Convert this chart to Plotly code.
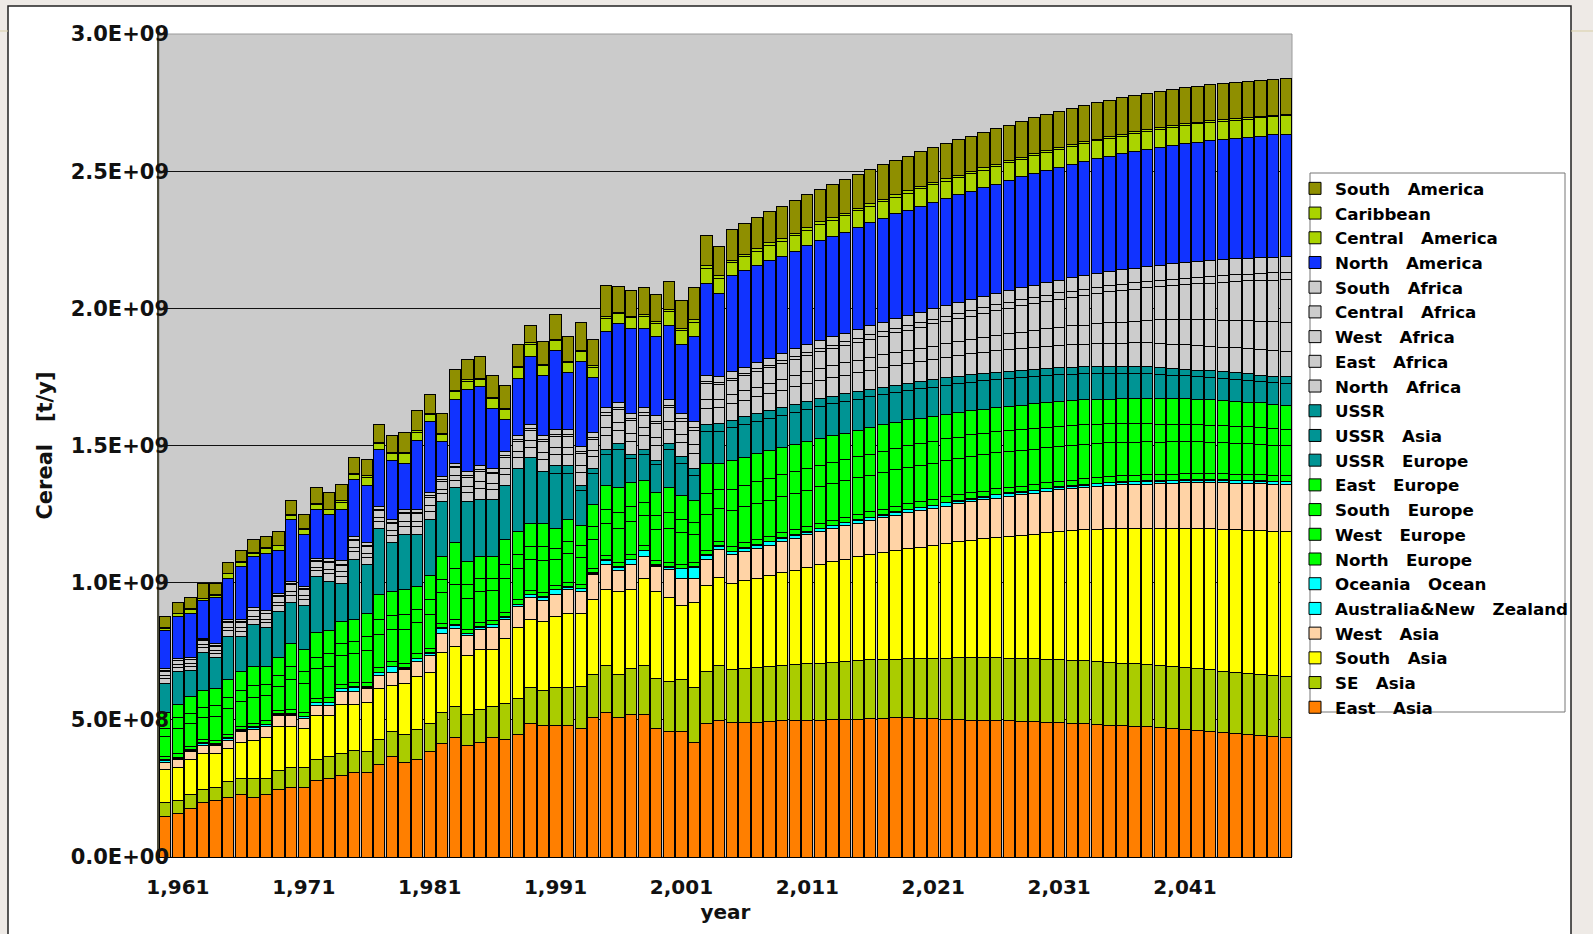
import plotly.graph_objects as go

# ---------------- data (million tonnes of cereal per year) ----------------
years = list(range(1960, 2050))
x_tick_years = [1961, 1971, 1981, 1991, 2001, 2011, 2021, 2031, 2041]
x_tick_text = ["1,961", "1,971", "1,981", "1,991", "2,001", "2,011", "2,021", "2,031", "2,041"]
y_tick_vals = [0.0, 0.5e9, 1.0e9, 1.5e9, 2.0e9, 2.5e9, 3.0e9]
y_tick_text = ["0.0E+00", "5.0E+08", "1.0E+09", "1.5E+09", "2.0E+09", "2.5E+09", "3.0E+09"]

east_asia = [148,158,176,198,207,216,227,216,227,245, 255,255,279,286,298,307,307,338,365,346,
             355,386,415,436,408,417,436,428,448,487, 478,478,478,469,508,527,509,518,518,469,
             459,459,418,
             487,497,490,490,492,494,496,497,498,499, 500,502,503,505,506,507,507,506,505,503,
             501,499,498,497,496,495,494,492,490,488, 486,484,481,479,477,475,472,469,466,462,
             458,453,449,446,442,439,437]
se_asia = [49,49,51,49,48,61,59,70,59,71, 73,73,77,79,81,82,79,90,91,100,
           110,100,111,112,110,121,112,130,130,130, 128,141,141,152,159,171,157,170,180,180,
           180,189,201,
           191,201,192,198,199,201,202,203,206,207, 208,209,212,214,214,214,215,216,218,222,
           225,228,230,231,229,228,228,229,230,230, 230,229,229,228,228,227,227,227,226,226,
           225,225,224,224,224,222,222]
south_asia = [121,119,129,130,122,120,130,139,148,160, 148,140,160,151,177,166,179,188,170,188,
              193,188,220,218,218,219,209,239,258,249, 252,257,269,267,270,278,301,288,318,318,
              307,268,309,
              310,322,316,319,325,332,339,346,352,360, 368,375,380,384,390,396,402,408,414,418,
              423,428,432,436,443,449,454,461,466,471, 476,482,487,491,493,496,499,502,506,509,
              513,517,520,521,523,527,529]
west_asia = [28,29,30,28,28,28,40,40,40,38, 38,36,37,37,49,49,49,46,48,50,
             56,61,69,68,70,71,79,69,77,79, 76,82,88,79,91,91,79,89,81,91,
             103,100,88,
             98,100,103,106,108,110,113,116,118,119, 120,121,122,123,126,128,130,133,135,136,
             138,140,142,144,146,148,150,151,152,154, 156,157,158,159,160,161,163,165,166,167,
             168,169,170,171,171,170,170]
australia_nz = [7,5,4,9,6,8,6,7,8,6, 6,7,10,10,9,14,4,9,19,3,
                9,7,19,10,7,10,10,8,7,11, 13,16,8,10,7,14,10,18,20,5,
                7,34,40,
                13,12,11,12,13,12,12,11,10,11, 11,11,11,10,10,11,12,10,9,12,
                10,9,9,12,11,9,9,9,9,8, 8,9,9,9,10,11,9,9,9,9,
                9,9,9,9,9,9,9]
oceania = [2,2,2,2,2,2,2,2,2,2, 2,2,2,2,2,2,2,2,2,2, 2,2,2,2,2,2,2,2,2,2,
           2,2,2,2,2,2,2,2,2,2, 2,2,2,2,2,2,2,2,2,2, 2,2,2,2,2,2,2,2,2,2,
           2,2,2,2,2,2,2,2,2,2, 2,2,2,2,2,2,2,2,2,2, 2,2,2,2,2,2,2,2,2,2]
north_europe = [10,15,12,12,12,13,13,13,13,12, 15,15,12,16,14,15,16,17,16,17,
                16,17,16,18,16,15,15,17,16,15, 16,13,15,14,15,16,17,17,15,16,
                17,16,14,
                18,17,19,19,19,19,19,19,19,19, 19,19,20,20,20,20,20,20,20,21,
                21,21,21,21,21,21,21,21,21,21, 21,21,21,21,21,21,21,21,22,22,
                22,22,22,22,22,22,22]
west_europe = [73,92,83,82,87,92,90,96,91,88, 110,104,110,112,104,105,115,122,117,123,
               113,122,111,129,113,111,107,121,114,111, 115,95,104,98,107,117,124,121,110,113,
               124,114,103,
               128,118,130,130,131,131,132,132,132,132, 132,132,132,133,133,133,133,133,133,133,
               133,133,132,131,130,130,129,128,127,126, 125,124,123,122,121,120,119,118,117,116,
               115,114,113,112,111,110,109]
south_europe = [32,40,37,36,39,40,41,42,40,39, 49,46,40,50,46,47,51,54,51,54,
                50,54,49,57,50,49,47,54,51,49, 51,42,46,43,47,52,55,53,48,50,
                55,50,46,
                79,70,78,78,78,78,78,78,78,77, 77,77,77,78,78,78,78,78,78,78,
                78,79,78,77,76,76,75,74,73,72, 71,70,69,68,67,66,65,64,63,63,
                62,62,61,61,60,60,59]
east_europe = [55,47,62,62,65,68,69,71,68,66, 82,78,91,83,77,78,85,91,87,91,
               83,90,83,97,83,82,80,90,85,83, 85,72,78,73,80,88,92,90,82,84,
               92,84,77,
               109,96,106,104,103,103,101,101,100,99, 98,97,96,96,96,96,94,94,93,89,
               89,87,88,86,88,89,90,89,90,91, 91,90,90,91,92,93,95,94,93,92,
               92,91,91,90,91,89,87]
ussr_europe = [0,0,0,0,0,0,0,0,0,0, 0,0,0,0,0,0,0,0,0,0, 0,0,0,0,0,0,0,0,0,0, 0,
               199,170,129,113,112,138,87,95,101,138,118,91,
               115,117,117,118,117,116,116,117,118,118, 117,115,114,113,111,108,107,106,105,106,
               106,105,104,103,103,102,100,99,98,97, 95,94,94,93,92,90,88,86,84,83,
               82,80,80,79,78,79,80]
ussr_asia = [0,0,0,0,0,0,0,0,0,0, 0,0,0,0,0,0,0,0,0,0, 0,0,0,0,0,0,0,0,0,0, 0,
             30,28,20,18,18,22,15,17,18,24,25,28,
             27,28,28,28,28,28,28,28,28,28, 28,28,27,27,27,27,27,27,27,27,
             27,27,27,27,26,26,26,26,26,26, 26,26,25,25,25,25,25,24,24,24,
             24,24,24,24,24,24,24]
ussr = [109,121,94,139,111,156,127,151,139,168, 148,159,206,179,140,221,180,241,180,202,
        189,202,200,199,218,208,208,198,229,240, 191,
        0,0,0,0,0,0,0,0,0,0,0,0,
        0,0,0,0,0,0,0,0,0,0, 0,0,0,0,0,0,0,0,0,0, 0,0,0,0,0,0,0,0,0,0,
        0,0,0,0,0,0,0,0,0,0, 0,0,0,0,0,0,0]
north_africa = [17,15,15,16,16,20,19,20,20,21, 26,23,21,27,26,26,26,25,27,29,
                29,32,29,28,35,39,36,39,39,38, 42,42,41,45,42,49,48,48,49,52,
                51,51,54,
                59,58,60,61,62,63,64,65,66,67, 68,69,70,70,71,72,73,73,74,75,
                75,76,77,78,79,79,80,81,82,83, 83,84,85,85,86,87,88,89,89,90,
                90,91,91,91,92,92,92]
east_africa = [10,9,9,10,10,12,12,11,12,13, 15,14,12,16,16,16,15,15,16,17,
               18,19,17,17,21,23,21,23,23,23, 25,25,25,27,24,29,29,28,29,30,
               30,30,32,
               32,31,33,35,36,37,39,40,41,42, 43,44,45,46,47,47,48,49,49,50,
               51,51,53,55,57,59,61,63,65,67, 69,72,74,76,79,82,85,88,91,93,
               96,98,100,102,104,106,108]
west_africa = [16,14,15,16,16,19,19,19,19,20, 25,22,20,26,25,25,25,24,26,29,
               28,31,29,28,34,38,35,38,37,38, 41,40,40,43,40,47,47,46,47,50,
               50,49,53,
               59,54,52,54,57,57,58,60,60,61, 62,64,66,67,68,72,73,76,81,81,
               84,87,89,91,93,96,99,100,102,104, 108,110,113,116,117,119,121,125,128,131,
               134,138,141,146,148,152,155]
central_africa = [3,2,2,3,3,3,3,3,3,3, 4,4,3,4,4,4,4,4,4,5,
                  5,5,5,4,6,6,6,6,6,6, 7,6,7,7,7,8,8,7,8,8,
                  8,8,9,
                  8,8,9,9,10,10,11,11,12,12, 13,14,14,15,16,16,17,18,18,19,
                  20,21,21,22,22,22,22,23,23,23, 23,23,23,23,23,23,23,23,23,24,
                  24,24,25,25,26,26,26]
south_africa = [6,6,6,6,6,7,8,8,8,9, 10,9,9,11,11,11,10,11,10,12,
                12,12,12,12,14,16,14,16,16,16, 16,17,17,18,17,19,19,20,19,21,
                21,20,22,
                22,21,22,23,24,25,26,27,28,29, 30,31,32,33,34,35,36,37,37,38,
                39,40,41,42,43,44,45,46,47,48, 49,50,51,52,53,54,55,56,57,57,
                58,58,58,58,58,58,58]
north_america = [140,154,160,138,167,150,193,189,210,156, 223,189,179,158,189,209,209,209,216,167,
                 249,259,127,231,300,288,219,118,207,249, 219,291,209,310,200,277,289,310,289,289,
                 268,250,310,
                 332,303,350,351,353,358,354,355,360,365, 367,368,373,377,379,382,384,387,389,391,
                 392,394,396,398,401,404,406,408,410,413, 416,418,420,423,425,427,430,432,434,436,
                 437,439,440,441,443,445,446]
central_america = [7,10,15,6,9,17,16,11,18,17, 15,19,16,18,26,19,29,21,25,35,
                   32,27,27,32,30,26,35,35,38,44, 35,34,35,35,39,49,34,38,43,49,
                   52,53,53,
                   57,54,48,51,52,53,55,56,57,58, 59,60,60,60,61,61,61,63,63,63,
                   63,64,64,64,64,64,65,65,65,65, 65,65,65,65,65,65,65,66,66,66,
                   66,66,66,66,66,66,67]
caribbean = [2,2,3,2,2,3,3,3,3,3, 3,3,3,3,4,3,4,3,4,4,
             4,4,4,4,4,4,5,5,5,5, 5,5,5,5,5,6,5,5,6,6,
             6,7,8,
             10,9,9,10,10,10,10,10,10,10, 9,9,9,9,9,9,9,8,8,8,
             8,8,8,8,8,8,7,7,7,7, 7,7,7,7,7,7,7,6,6,6,
             6,6,6,6,6,6,6]
south_america = [40,38,40,52,40,40,42,47,40,51, 51,51,61,60,61,58,59,67,62,74,
                 75,69,72,76,76,81,81,81,81,64, 82,89,91,102,96,113,95,96,99,97,
                 103,100,119,
                 109,107,113,110,111,114,116,118,119,120, 121,122,123,124,125,126,126,127,128,128,
                 129,129,130,130,130,131,131,131,131,132, 132,132,132,132,132,132,132,132,132,132,
                 132,132,132,131,131,131,130]

# stacking order: bottom -> top
series = [
    ("East Asia", east_asia, "#FF7F00"),
    ("SE Asia", se_asia, "#AACC00"),
    ("South Asia", south_asia, "#FFFF00"),
    ("West Asia", west_asia, "#FFD3A6"),
    ("Australia&New Zealand", australia_nz, "#00FFFF"),
    ("Oceania Ocean", oceania, "#00FFFF"),
    ("North Europe", north_europe, "#00FF00"),
    ("West Europe", west_europe, "#00FF00"),
    ("South Europe", south_europe, "#00FF00"),
    ("East Europe", east_europe, "#00FF00"),
    ("USSR Europe", ussr_europe, "#009494"),
    ("USSR Asia", ussr_asia, "#009494"),
    ("USSR", ussr, "#009494"),
    ("North Africa", north_africa, "#CCCCCC"),
    ("East Africa", east_africa, "#CCCCCC"),
    ("West Africa", west_africa, "#CCCCCC"),
    ("Central Africa", central_africa, "#CCCCCC"),
    ("South Africa", south_africa, "#CCCCCC"),
    ("North America", north_america, "#1133FF"),
    ("Central America", central_america, "#AAD400"),
    ("Caribbean", caribbean, "#AAD400"),
    ("South America", south_america, "#8F8F00"),
]

for nm, vals, _c in series:
    assert len(vals) == len(years), (nm, len(vals))

GAP = "\u00a0\u00a0\u00a0"
FONT = "DejaVu Sans"

fig = go.Figure()
for nm, vals, col in series:
    fig.add_trace(go.Bar(
        x=years,
        y=[v * 1e6 if v else None for v in vals],
        name=nm.replace(" ", GAP),
        marker=dict(color=col, line=dict(color="#000000", width=1)),
    ))

# geometry of the plot area in page pixels
L, R, T, B = 159, 1292, 34, 857
W, H = R - L, B - T


def px(xp):
    return (xp - L) / W


def py(yp):
    return (B - yp) / H


shapes = [
    # white panel with dark frame
    dict(type="rect", xref="paper", yref="paper", x0=px(8), x1=px(1571), y0=py(960), y1=py(6),
         fillcolor="white", line=dict(color="#222222", width=1.5), layer="below"),
    # grey plotting area
    dict(type="rect", xref="paper", yref="paper", x0=0, x1=1, y0=0, y1=1,
         fillcolor="#CBCBCB", line=dict(color="#9a9a9a", width=1), layer="below"),
    # legend frame
    dict(type="rect", xref="paper", yref="paper", x0=px(1310), x1=px(1565), y0=py(712), y1=py(173),
         fillcolor="white", line=dict(color="#777777", width=1), layer="below"),
    # thin tan rule outside the panel
    dict(type="line", xref="paper", yref="paper", x0=px(0), x1=px(8), y0=py(31), y1=py(31),
         line=dict(color="#d8cfa6", width=1), layer="below"),
    dict(type="line", xref="paper", yref="paper", x0=px(1571), x1=px(1593), y0=py(31), y1=py(31),
         line=dict(color="#d8cfa6", width=1), layer="below"),
]

fig.update_layout(
    width=1593, height=934,
    margin=dict(l=L, r=1593 - R, t=T, b=934 - B, pad=0, autoexpand=False),
    paper_bgcolor="#EEEAE6",
    plot_bgcolor="#CBCBCB",
    barmode="stack",
    bargap=0.1,
    showlegend=True,
    shapes=shapes,
    legend=dict(
        x=px(1295), y=py(171), xanchor="left", yanchor="top",
        bgcolor="rgba(0,0,0,0)", borderwidth=0,
        traceorder="reversed", tracegroupgap=0,
        font=dict(family=FONT, size=16.7, color="#000000", weight="bold"),
    ),
    xaxis=dict(
        range=[1959.5, 2049.5],
        tickmode="array", tickvals=x_tick_years, ticktext=x_tick_text,
        showgrid=False, zeroline=False, ticks="",
        showline=True, linecolor="#000000", linewidth=1,
        tickfont=dict(family=FONT, size=20, color="#111111", weight="bold"),
        ticklabelstandoff=12,
        title=dict(text="year", font=dict(family=FONT, size=20, color="#111111", weight="bold"),
                   standoff=6),
    ),
    yaxis=dict(
        range=[0, 3.0e9],
        tickmode="array", tickvals=y_tick_vals, ticktext=y_tick_text,
        showgrid=True, gridcolor="#111111", gridwidth=1, zeroline=False, ticks="",
        showline=True, linecolor="#4a4a3a", linewidth=1.5,
        tickfont=dict(family=FONT, size=21, color="#111111", weight="bold"),
        ticklabelstandoff=-16,
        title=dict(text="Cereal" + GAP + "[t/y]",
                   font=dict(family=FONT, size=21, color="#111111", weight="bold"),
                   standoff=12),
    ),
)

fig.write_html(
    "out.html",
    config={"displayModeBar": False},
    post_script="document.body.style.margin='0';document.body.style.overflow='hidden';",
)
